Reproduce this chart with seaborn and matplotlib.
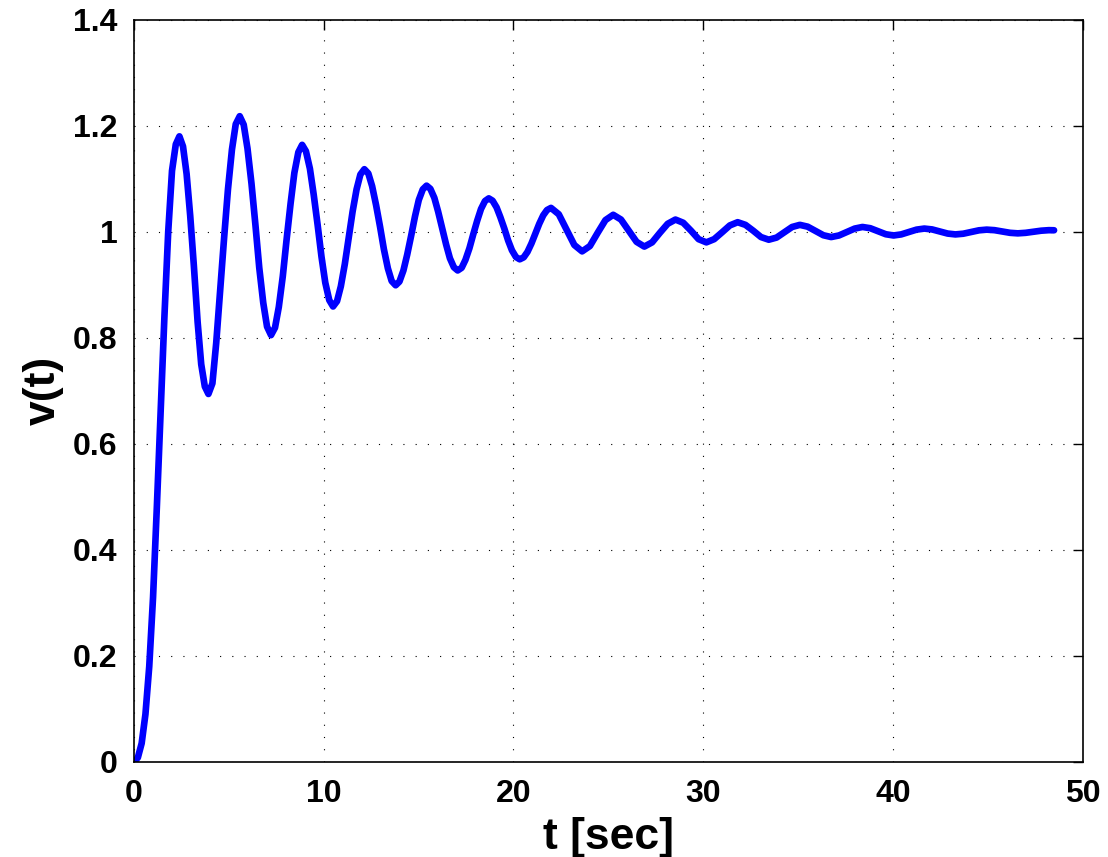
import matplotlib
matplotlib.use("Agg")
import matplotlib.pyplot as plt
import seaborn as sns

# step response
t_sec = [0.0, 0.2, 0.4, 0.6, 0.8, 1.0, 1.2, 1.4, 1.6, 1.8, 2.0, 2.2, 2.39,
         2.58, 2.77, 2.96, 3.15, 3.35, 3.54, 3.73, 3.92,
         4.13, 4.33, 4.54, 4.75, 4.95, 5.16, 5.36, 5.57,
         5.78, 5.98, 6.19, 6.40, 6.60, 6.81, 7.01, 7.22,
         7.43, 7.63, 7.84, 8.04, 8.25, 8.45, 8.66, 8.86,
         9.06, 9.27, 9.47, 9.68, 9.88, 10.08, 10.29, 10.49,
         10.70, 10.90, 11.11, 11.32, 11.52, 11.73, 11.93, 12.14,
         12.35, 12.55, 12.76, 12.97, 13.17, 13.38, 13.58, 13.79,
         13.99, 14.20, 14.40, 14.61, 14.81, 15.01, 15.22, 15.42,
         15.62, 15.83, 16.03, 16.24, 16.45, 16.65, 16.86, 17.06,
         17.27, 17.47, 17.68, 17.88, 18.09, 18.29, 18.50, 18.70,
         18.90, 19.11, 19.31, 19.52, 19.72, 19.92, 20.13, 20.33,
         20.54, 20.74, 20.95, 21.16, 21.36, 21.57, 21.77, 21.98,
         22.39, 22.80, 23.21, 23.62, 24.03, 24.44, 24.85, 25.26,
         25.67, 26.08, 26.49, 26.90, 27.31, 27.72, 28.13, 28.54,
         28.95, 29.36, 29.76, 30.17, 30.58, 31.00, 31.41, 31.82,
         32.23, 32.64, 33.05, 33.46, 33.87, 34.28, 34.69, 35.10,
         35.51, 35.92, 36.34, 36.75, 37.16, 37.57, 37.99, 38.40,
         38.81, 39.22, 39.63, 40.04, 40.44, 40.85, 41.25, 41.66,
         42.07, 42.48, 42.89, 43.30, 43.71, 44.12, 44.54, 44.95,
         45.36, 45.77, 46.18, 46.59, 47.00, 47.41, 47.82, 48.23, 48.50]
v_t = [0.0, 0.008, 0.035, 0.09, 0.18, 0.31, 0.48, 0.66, 0.84, 1.0, 1.115, 1.165, 1.180,
       1.161, 1.109, 1.030, 0.937, 0.830, 0.750, 0.708, 0.694,
       0.714, 0.790, 0.890, 0.990, 1.080, 1.155, 1.203, 1.218,
       1.202, 1.157, 1.091, 1.012, 0.932, 0.866, 0.821, 0.805,
       0.819, 0.858, 0.916, 0.985, 1.053, 1.111, 1.150, 1.164,
       1.152, 1.119, 1.070, 1.012, 0.953, 0.904, 0.871, 0.859,
       0.869, 0.897, 0.939, 0.989, 1.038, 1.080, 1.108, 1.118,
       1.110, 1.086, 1.050, 1.009, 0.967, 0.931, 0.907, 0.899,
       0.906, 0.927, 0.957, 0.993, 1.029, 1.060, 1.080, 1.087,
       1.081, 1.064, 1.038, 1.007, 0.976, 0.950, 0.933, 0.927,
       0.932, 0.947, 0.969, 0.995, 1.021, 1.043, 1.058, 1.063,
       1.0586, 1.046, 1.0275, 1.006, 0.9835, 0.965, 0.9524, 0.948,
       0.9517, 0.962, 0.978, 0.997, 1.015, 1.031, 1.041, 1.045,
       1.033, 1.004, 0.975, 0.963, 0.973, 0.998, 1.022, 1.032,
       1.023, 1.002, 0.981, 0.972, 0.980, 0.998, 1.015, 1.023,
       1.017, 1.002, 0.986, 0.980, 0.986, 0.999, 1.012, 1.018,
       1.013, 1.002, 0.990, 0.985, 0.989, 0.999, 1.009, 1.013,
       1.0096, 1.0015, 0.9934, 0.990, 0.993, 0.9995, 1.006, 1.009,
       1.0067, 1.001, 0.9953, 0.993, 0.995, 0.9995, 1.004, 1.006,
       1.0044, 1.0005, 0.9966, 0.995, 0.9963, 0.9995, 1.0027, 1.004,
       1.003, 1.0005, 0.998, 0.997, 0.998, 1.0, 1.002, 1.003, 1.0028]

x_ticks = [0, 10, 20, 30, 40, 50]
y_ticks = [0, 0.2, 0.4, 0.6, 0.8, 1.0, 1.2, 1.4]
y_tick_labels = ["0", "0.2", "0.4", "0.6", "0.8", "1", "1.2", "1.4"]

sns.set_theme(style="white")
plt.rcParams['font.family'] = ['Liberation Sans', 'DejaVu Sans']
plt.rcParams['font.weight'] = 'bold'
plt.rcParams['text.color'] = 'black'
plt.rcParams['axes.labelcolor'] = 'black'
plt.rcParams['xtick.color'] = 'black'
plt.rcParams['ytick.color'] = 'black'

fig = plt.figure(figsize=(11.08, 8.57), dpi=100)
fig.subplots_adjust(left=0.121, right=0.977, bottom=0.111, top=0.977)
ax = fig.add_subplot(111)

sns.lineplot(x=t_sec, y=v_t, color="#0000ff", linewidth=4.8, ax=ax)

ax.set_xlim(0, 50)
ax.set_ylim(0, 1.4)
ax.set_xticks(x_ticks)
ax.set_xticklabels([str(x) for x in x_ticks])
ax.set_yticks(y_ticks)
ax.set_yticklabels(y_tick_labels)
ax.grid(True, color="black", linestyle=(0, (1, 10)), linewidth=0.8)
ax.tick_params(direction="in", length=7, width=1, top=True, right=True,
               labelsize=23, colors="black", labelcolor="black", pad=12)
for lbl in ax.get_xticklabels() + ax.get_yticklabels():
    lbl.set_fontweight("bold")
for sp in ax.spines.values():
    sp.set_color("black")
    sp.set_linewidth(1.2)

ax.set_xlabel("t [sec]", fontsize=32, fontweight="bold", color="black")
ax.set_ylabel("v(t)", fontsize=32, fontweight="bold", color="black")
# kept fully inside the figure (the reference crops it slightly)
ax.xaxis.set_label_coords(0.5, -0.074)
ax.yaxis.set_label_coords(-0.074, 0.5)

fig.savefig("out.png", dpi=100, facecolor="white")
